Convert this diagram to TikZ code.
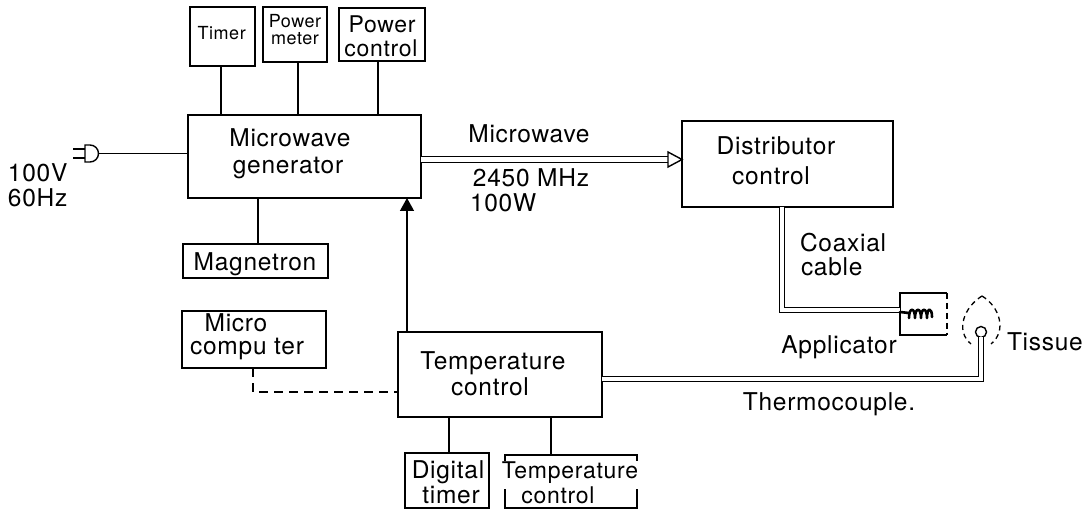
\documentclass[tikz,border=0pt]{standalone}
\usepackage{fontspec}
\setmainfont{TeX Gyre Heros}[LetterSpace=3]
\usetikzlibrary{decorations.pathmorphing,arrows.meta}
\begin{document}
\begin{tikzpicture}[x=1pt,y=-1pt,
  every node/.style={inner sep=0pt, outer sep=0pt},
  box/.style={draw, line width=1.4pt, rectangle},
  hid/.style={rectangle},
  big/.style={font=\fontsize{24.5}{28}\selectfont, anchor=base},
  mid/.style={font=\fontsize{23}{26}\selectfont, anchor=base},
  sml/.style={font=\fontsize{18}{20}\selectfont, anchor=base},
  ln/.style={line width=1.4pt},
  dbl/.style={double, double distance=4.5pt, line width=1.1pt, line join=miter},
  dsh/.style={line width=1.4pt, dash pattern=on 9pt off 6pt},
]
\useasboundingbox (0,0) rectangle (1089,510);

% ---- boxes ----
\node[box, minimum width=65pt, minimum height=59pt] (timer) at (222.5,36.5) {};
\node[box, minimum width=64pt, minimum height=55pt] (pmeter) at (295,34.5) {};
\node[box, minimum width=86pt, minimum height=53pt] (pctrl) at (382,34.5) {};
\node[box, minimum width=233pt, minimum height=83pt] (gen) at (304.5,156.5) {};
\node[box, minimum width=145pt, minimum height=34pt] (mag) at (255.5,261) {};
\node[box, minimum width=211pt, minimum height=86pt] (dist) at (787.5,164) {};
\node[box, minimum width=144pt, minimum height=57pt] (mc) at (254,339.5) {};
\node[box, minimum width=204pt, minimum height=85pt] (temp) at (500,374.5) {};
\node[box, minimum width=84pt, minimum height=55pt] (dt) at (447,480.5) {};
\node[hid, minimum width=132pt, minimum height=53pt] (tcs) at (571,481.5) {};
\node[hid, minimum width=47pt, minimum height=42pt] (app) at (923.5,314) {};
\node[draw, circle, line width=1.4pt, minimum size=11pt] (tc) at (981,332) {};

% partial outlines
\draw[ln] ([yshift=-6pt]tcs.north west) -- (tcs.north west) -- (tcs.north east) -- ([yshift=-6pt]tcs.north east);
\draw[ln] ([yshift=19pt]tcs.south west) -- (tcs.south west) -- (tcs.south east) -- ([yshift=19pt]tcs.south east);
\draw[ln] (app.north east) -- (app.north west) -- (app.south west) -- (app.south east);
\draw[ln, dash pattern=on 6pt off 4pt] (app.north east) -- (app.south east);

% ---- texts ----
\node[sml] (t1) at (221.7,40) {Timer};
\node[sml, font=\fontsize{18}{18}\selectfont] (t2) at (295,27.5) {Power};
\node[sml, font=\fontsize{18}{18}\selectfont] (t3) at (295,44.5) {meter};
\node[mid] (t4) at (382,33) {Power};
\node[mid] (t5) at (381,57) {control};
\node[big] (t6) at (290,147) {Microwave};
\node[big] (t7) at (288,174) {generator};
\node[big] (t8) at (255,271) {Magnetron};
\node[big, anchor=base west] (t9) at (8,182) {100V};
\node[big, anchor=base west] (t10) at (8,207) {60Hz};
\node[big] (t11) at (529,143) {Microwave};
\node[big] (t12) at (531,187) {2450 MHz};
\node[big, anchor=base west] (t13) at (470,212) {100W};
\node[big] (t14) at (776,155) {Distributor};
\node[big] (t15) at (771,185) {control};
\node[big, anchor=base west] (t16) at (800,252) {Coaxial};
\node[big, anchor=base west] (t17) at (801,276) {cable};
\node[big] (t18) at (839,353) {Applicator};
\node[big, anchor=base west] (t19) at (1007,350) {Tissue};
\node[big] (t20) at (829,410) {Thermocouple.};
\node[big] (t21) at (236,332) {Micro};
\node[big] (t22) at (247,355) {compu ter};
\node[big] (t23) at (493,370) {Temperature};
\node[big] (t24) at (490,395) {control};
\node[big] (t25) at (448,478) {Digital};
\node[big] (t26) at (451,503) {timer};
\node[mid] (t27) at (570,478) {Temperature};
\node[mid] (t28) at (558,503) {control};

% ---- connectors ----
\draw[ln] (221,0 |- timer.south) -- (221,0 |- gen.north);
\draw[ln] (298,0 |- pmeter.south) -- (298,0 |- gen.north);
\draw[ln] (378,0 |- pctrl.south) -- (378,0 |- gen.north);
\draw[ln] (258,0 |- gen.south) -- (258,0 |- mag.north);

% plug
\coordinate (plug) at (98.5,153.5);
\draw[ln] (85,145) -- (90,145) arc[start angle=-90, end angle=90, radius=8.5] -- (85,162) -- cycle;
\draw[ln] (73,149) -- (85,149);
\draw[ln] (73,158) -- (85,158);
\draw[ln] (plug) -- (plug -| gen.west);

% microwave double line with open arrow
\coordinate (mwend) at (668,159.5);
\draw[dbl] (gen.east |- mwend) -- (mwend);
\draw[ln, line join=miter, fill=white] (668,152) -- (dist.west |- mwend) -- (668,167) -- cycle;

% arrow up from temperature control
\draw[ln, -{Triangle[length=13pt, width=14pt]}] (407,0 |- temp.north) -- (407,0 |- gen.south);

% coaxial cable
\coordinate (coil) at (909,313);
\draw[dbl] (782,0 |- dist.south) -- (782,310) -- (app.west |- 0,310);
\draw[line width=2.6pt, line cap=round, line join=round]
  (app.west |- 0,312) -- (coil)
  (909,318) .. controls (909,307) and (915,307) .. (915,318)
  .. controls (915,307) and (921,307) .. (921,318)
  .. controls (921,307) and (927,307) .. (927,318)
  .. controls (927,307) and (932,307) .. (932,317);

% thermocouple
\draw[dbl] (temp.east |- 0,379) -- (tc.south |- 0,379) -- (tc.south);
% tissue
\draw[line width=1.3pt, dash pattern=on 5pt off 4pt] (982,296) .. controls (964,307) and (955,331) .. (971,344);
\draw[line width=1.3pt, dash pattern=on 5pt off 4pt] (982,296) .. controls (1000,307) and (1007,331) .. (991,344);

% microcomputer dashed
\draw[dsh] (253,0 |- mc.south) -- (253,392) -- (temp.west |- 0,392);

% bottom boxes
\draw[ln] (449,0 |- temp.south) -- (449,0 |- dt.north);
\draw[ln] (551,0 |- temp.south) -- (551,0 |- tcs.north);
\end{tikzpicture}
\end{document}
